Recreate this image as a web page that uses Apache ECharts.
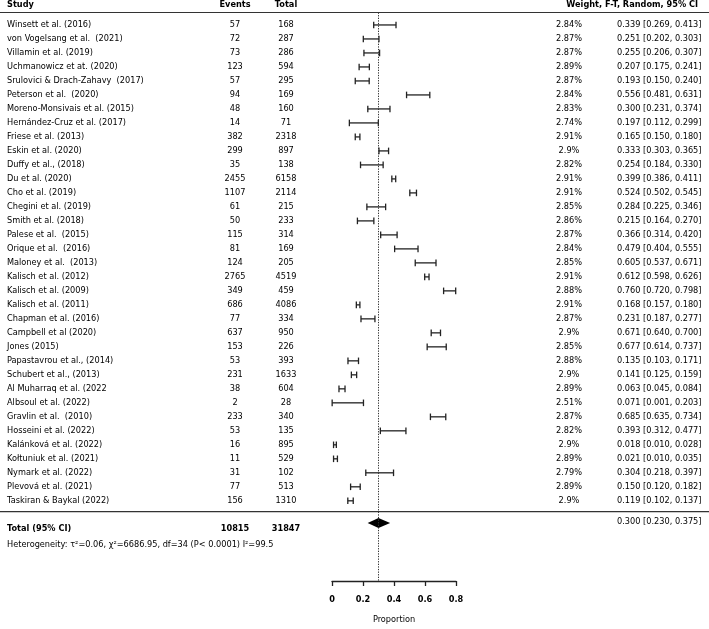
<!DOCTYPE html>
<html>
<head>
<meta charset="utf-8">
<script src="https://cdn.jsdelivr.net/npm/echarts@6/dist/echarts.min.js"></script>
<style>
  html, body { margin: 0; padding: 0; background: #fff; }
  #chart { width: 709px; height: 629px; }
</style>
</head>
<body>
<div id="chart"></div>
<script>
// study rows, top to bottom
const studies = [
  "Winsett et al. (2016)", "von Vogelsang et al.  (2021)", "Villamin et al. (2019)",
  "Uchmanowicz et at. (2020)", "Srulovici & Drach-Zahavy  (2017)", "Peterson et al.  (2020)",
  "Moreno-Monsivais et al. (2015)", "Hernández-Cruz et al. (2017)", "Friese et al. (2013)",
  "Eskin et al. (2020)", "Duffy et al., (2018)", "Du et al. (2020)", "Cho et al. (2019)",
  "Chegini et al. (2019)", "Smith et al. (2018)", "Palese et al.  (2015)", "Orique et al.  (2016)",
  "Maloney et al.  (2013)", "Kalisch et al. (2012)", "Kalisch et al. (2009)", "Kalisch et al. (2011)",
  "Chapman et al. (2016)", "Campbell et al (2020)", "Jones (2015)", "Papastavrou et al., (2014)",
  "Schubert et al., (2013)", "Al Muharraq et al. (2022", "Albsoul et al. (2022)",
  "Gravlin et al.  (2010)", "Hosseini et al. (2022)", "Kalánková et al. (2022)",
  "Kołtuniuk et al. (2021)", "Nymark et al. (2022)", "Plevová et al. (2021)", "Taskiran & Baykal (2022)"
];
const events = [57, 72, 73, 123, 57, 94, 48, 14, 382, 299, 35, 2455, 1107, 61, 50, 115, 81, 124,
  2765, 349, 686, 77, 637, 153, 53, 231, 38, 2, 233, 53, 16, 11, 31, 77, 156];
const totals = [168, 287, 286, 594, 295, 169, 160, 71, 2318, 897, 138, 6158, 2114, 215, 233, 314,
  169, 205, 4519, 459, 4086, 334, 950, 226, 393, 1633, 604, 28, 340, 135, 895, 529, 102, 513, 1310];
const weights = [2.84, 2.87, 2.87, 2.89, 2.87, 2.84, 2.83, 2.74, 2.91, 2.9, 2.82, 2.91, 2.91, 2.85,
  2.86, 2.87, 2.84, 2.85, 2.91, 2.88, 2.91, 2.87, 2.9, 2.85, 2.88, 2.9, 2.89, 2.51, 2.87, 2.82,
  2.9, 2.89, 2.79, 2.89, 2.9];
const estimate = [0.339, 0.251, 0.255, 0.207, 0.193, 0.556, 0.300, 0.197, 0.165, 0.333, 0.254,
  0.399, 0.524, 0.284, 0.215, 0.366, 0.479, 0.605, 0.612, 0.760, 0.168, 0.231, 0.671, 0.677,
  0.135, 0.141, 0.063, 0.071, 0.685, 0.393, 0.018, 0.021, 0.304, 0.150, 0.119];
const lower = [0.269, 0.202, 0.206, 0.175, 0.150, 0.481, 0.231, 0.112, 0.150, 0.303, 0.184,
  0.386, 0.502, 0.225, 0.164, 0.314, 0.404, 0.537, 0.598, 0.720, 0.157, 0.187, 0.640, 0.614,
  0.103, 0.125, 0.045, 0.001, 0.635, 0.312, 0.010, 0.010, 0.218, 0.120, 0.102];
const upper = [0.413, 0.303, 0.307, 0.241, 0.240, 0.631, 0.374, 0.299, 0.180, 0.365, 0.330,
  0.411, 0.545, 0.346, 0.270, 0.420, 0.555, 0.671, 0.626, 0.798, 0.180, 0.277, 0.700, 0.737,
  0.171, 0.159, 0.084, 0.203, 0.734, 0.477, 0.028, 0.035, 0.397, 0.182, 0.137];

// pooled result
const totalEvents = 10815;
const totalN = 31847;
const pooled = [0.300, 0.230, 0.375];
const heterogeneity = "Heterogeneity: τ²=0.06, χ²=6686.95, df=34 (P< 0.0001) I²=99.5";

const xTicks = [0, 0.2, 0.4, 0.6, 0.8];

// layout
const FONT = "DejaVu Sans";
const FS = 8.2;
const INK = "#000";
const NAME_X = 7, EVENTS_X = 235, TOTAL_X = 286, WEIGHT_X = 569, CI_X = 617;
const TOTAL_ROW = studies.length + 1.58;

function txt(x, y, s, align, bold) {
  return {
    type: "text",
    style: {
      x: x, y: y, text: s, fill: INK, align: align || "left", verticalAlign: "middle",
      fontFamily: FONT, fontSize: FS, fontWeight: bold ? "bold" : "normal"
    }
  };
}
function ci(e, l, u) {
  return e.toFixed(3) + " [" + l.toFixed(3) + ", " + u.toFixed(3) + "]";
}

const chart = echarts.init(document.getElementById("chart"));

const studyData = studies.map((s, i) => [estimate[i], i + 1, lower[i], upper[i]]);

chart.setOption({
  animation: false,
  grid: { left: 332, right: 253, top: 12.5, bottom: 45 },
  xAxis: {
    type: "value", min: 0, max: 0.8, interval: 0.2,
    axisLine: { lineStyle: { color: "#222", width: 1.3 } },
    axisTick: { length: 5, lineStyle: { color: "#222", width: 1.3 } },
    splitLine: { show: false },
    axisLabel: {
      margin: 15, color: INK, fontFamily: FONT, fontSize: FS, fontWeight: "bold",
      formatter: v => (xTicks.indexOf(v) >= 0 ? String(v) : "")
    },
    name: "Proportion", nameLocation: "middle", nameGap: 35,
    nameTextStyle: { color: INK, fontFamily: FONT, fontSize: FS }
  },
  yAxis: { type: "value", inverse: true, min: 0.11, max: 40.73, show: false },
  graphic: [
    txt(NAME_X, 5, "Study", "left", true),
    txt(EVENTS_X, 5, "Events", "center", true),
    txt(TOTAL_X, 5, "Total", "center", true),
    txt(698, 5, "Weight, F-T, Random, 95% CI", "right", true),
    { type: "line", shape: { x1: 0, y1: 12.5, x2: 709, y2: 12.5 }, style: { stroke: "#333", lineWidth: 1.2 } },
    { type: "line", shape: { x1: 0, y1: 511.7, x2: 709, y2: 511.7 }, style: { stroke: "#333", lineWidth: 1.2 } },
    txt(NAME_X, 545, heterogeneity, "left", false)
  ],
  series: [
    {
      type: "scatter", data: [], silent: true,
      markLine: {
        symbol: "none", silent: true, label: { show: false },
        lineStyle: { color: "#333", type: [1.3, 1.3], width: 1 },
        data: [{ xAxis: pooled[0] }]
      }
    },
    {
      type: "custom",
      data: studyData,
      renderItem: function (params, api) {
        const i = params.dataIndex;
        const row = api.value(1);
        const a = api.coord([api.value(2), row]);
        const b = api.coord([api.value(3), row]);
        const y = a[1];
        const st = { stroke: "#222", lineWidth: 1.3 };
        return {
          type: "group",
          children: [
            { type: "line", shape: { x1: a[0], y1: y, x2: b[0], y2: y }, style: st },
            { type: "line", shape: { x1: a[0], y1: y - 3.3, x2: a[0], y2: y + 3.3 }, style: st },
            { type: "line", shape: { x1: b[0], y1: y - 3.3, x2: b[0], y2: y + 3.3 }, style: st },
            txt(NAME_X, y, studies[i]),
            txt(EVENTS_X, y, String(events[i]), "center"),
            txt(TOTAL_X, y, String(totals[i]), "center"),
            txt(WEIGHT_X, y, weights[i] + "%", "center"),
            txt(CI_X, y, ci(estimate[i], lower[i], upper[i]))
          ]
        };
      }
    },
    {
      type: "custom",
      data: [[pooled[0], TOTAL_ROW, pooled[1], pooled[2]]],
      renderItem: function (params, api) {
        const c = api.coord([api.value(0), api.value(1)]);
        const l = api.coord([api.value(2), api.value(1)]);
        const r = api.coord([api.value(3), api.value(1)]);
        const y = c[1];
        return {
          type: "group",
          children: [
            {
              type: "polygon",
              shape: { points: [[l[0], y], [c[0], y - 5], [r[0], y], [c[0], y + 5]] },
              style: { fill: "#000" }
            },
            txt(NAME_X, y + 6, "Total (95% CI)", "left", true),
            txt(EVENTS_X, y + 6, String(totalEvents), "center", true),
            txt(TOTAL_X, y + 6, String(totalN), "center", true),
            txt(CI_X, y - 1.5, ci(pooled[0], pooled[1], pooled[2]))
          ]
        };
      }
    }
  ]
});
</script>
</body>
</html>
